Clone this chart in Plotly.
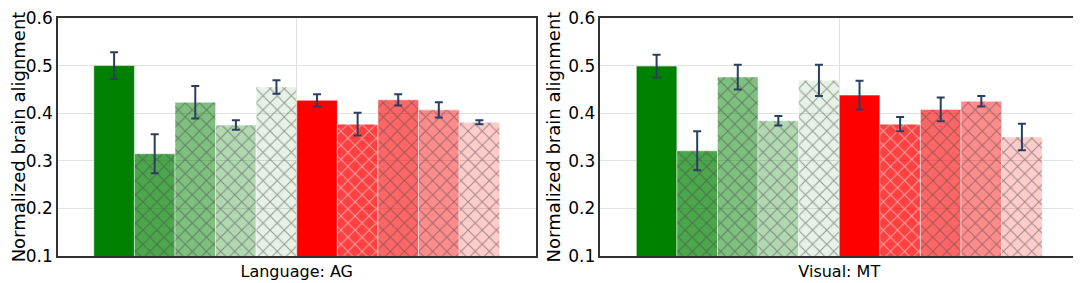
import plotly.graph_objects as go
from plotly.subplots import make_subplots

panels = ["Language: AG", "Visual: MT"]
bar_names = ["m1", "m2", "m3", "m4", "m5", "m6", "m7", "m8", "m9", "m10"]
lang_vals = [0.500, 0.315, 0.423, 0.375, 0.455, 0.427, 0.377, 0.428, 0.407, 0.381]
lang_errs = [0.028, 0.041, 0.034, 0.010, 0.014, 0.013, 0.024, 0.012, 0.016, 0.004]
vis_vals = [0.499, 0.321, 0.476, 0.384, 0.469, 0.438, 0.377, 0.408, 0.425, 0.350]
vis_errs = [0.024, 0.041, 0.026, 0.010, 0.033, 0.030, 0.015, 0.025, 0.011, 0.028]
bar_colors = ["rgba(0,128,0,1)", "rgba(0,128,0,0.7)", "rgba(0,128,0,0.5)",
              "rgba(0,128,0,0.3)", "rgba(0,128,0,0.1)",
              "rgba(255,0,0,1)", "rgba(255,0,0,0.75)", "rgba(255,0,0,0.6)",
              "rgba(255,0,0,0.45)", "rgba(255,0,0,0.2)"]
patterns = ["", "x", "x", "x", "x", "", "x", "x", "x", "x"]
pattern_fg = ["#444", "#444", "#444", "#444", "#444", "#444", "white", "#444", "#444", "#444"]
y_ticks = [0.1, 0.2, 0.3, 0.4, 0.5, 0.6]

fig = make_subplots(rows=1, cols=2, horizontal_spacing=0.0637)

for col, (cat, vals, errs) in enumerate([(panels[0], lang_vals, lang_errs),
                                         (panels[1], vis_vals, vis_errs)], start=1):
    for i, name in enumerate(bar_names):
        fig.add_trace(go.Bar(
            x=[cat], y=[vals[i]], name=name,
            marker=dict(color=bar_colors[i],
                        pattern=dict(shape=patterns[i], fillmode="overlay",
                                     fgcolor=pattern_fg[i], fgopacity=0.5,
                                     size=10, solidity=0.2),
                        line=dict(color="white", width=0.5)),
            error_y=dict(type="data", array=[errs[i]], color="#2a3f5f",
                         thickness=2, width=4),
            showlegend=False,
        ), row=1, col=col)

fig.update_layout(
    template="plotly_white",
    width=1073, height=275,
    margin=dict(l=50, r=3, t=10, b=27),
    barmode="group", bargap=0.15, bargroupgap=0,
    font=dict(family="DejaVu Sans", color="black"),
    plot_bgcolor="white", paper_bgcolor="white",
)
fig.update_yaxes(range=[0.1, 0.6], tickvals=y_ticks, ticktext=[f"{v:.1f}" for v in y_ticks],
                 showline=True, linecolor="#333", linewidth=1.5, mirror=True,
                 gridcolor="#e2e2e2", zeroline=False, ticklabeloverflow="allow",
                 automargin=False,
                 tickfont=dict(size=17, color="black"),
                 title=dict(text="Normalized brain alignment", font=dict(size=18, color="black"), standoff=3))
fig.update_xaxes(showline=True, linecolor="#333", linewidth=1.5, mirror=True,
                 gridcolor="#e2e2e2", automargin=False,
                 tickfont=dict(size=16, color="black"))

fig.write_html("out.html")
